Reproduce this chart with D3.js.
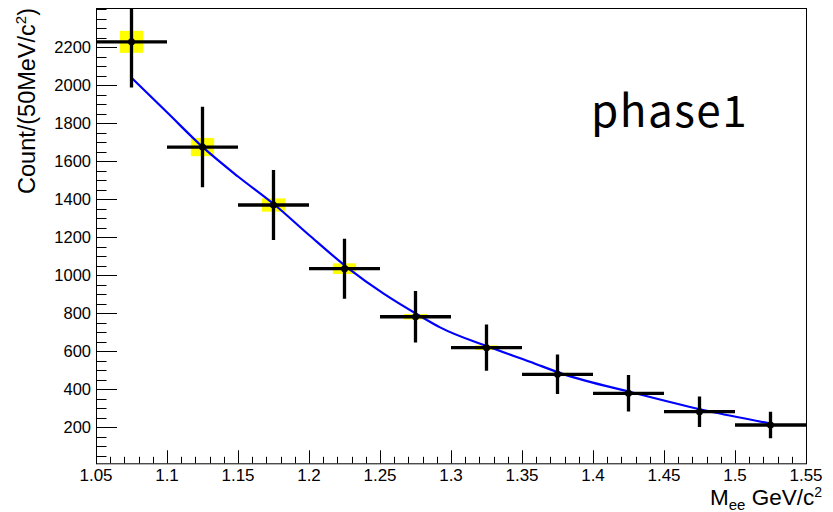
<!DOCTYPE html>
<html>
<head>
<meta charset="utf-8">
<script src="https://cdn.jsdelivr.net/npm/d3@7"></script>
<style>
  html, body { margin: 0; padding: 0; background: #fff; }
  svg { display: block; }
  text { font-family: "Liberation Sans", Arial, sans-serif; fill: #000; }
</style>
</head>
<body>
<svg id="chart" width="833" height="512"></svg>
<script>
// ---- data ----
const binCenters = [1.075, 1.125, 1.175, 1.225, 1.275, 1.325, 1.375, 1.425, 1.475, 1.525];
const counts     = [2229, 1675, 1370, 1035, 782, 619, 479, 379, 282, 212];
const statErr    = [240, 212, 184, 158, 136, 122, 104, 96, 80, 70];
const sysErr     = [58, 48, 35, 28, 14, 12, 8, 5, 4, 3];
const binHalfWidth = 0.025;
const fitX = [1.075, 1.1, 1.1256, 1.15, 1.176, 1.2, 1.2277, 1.2523, 1.2782, 1.2923, 1.3275, 1.3556, 1.3791, 1.4284, 1.4801, 1.525];
const fitY = [2040, 1858, 1672, 1520, 1370, 1212, 1037, 905, 786, 726, 621, 545, 480, 382, 287, 220];
const xTicks = [1.05, 1.1, 1.15, 1.2, 1.25, 1.3, 1.35, 1.4, 1.45, 1.5, 1.55];
const yTicks = [200, 400, 600, 800, 1000, 1200, 1400, 1600, 1800, 2000, 2200];
const label = "phase1";

// ---- layout ----
const svg = d3.select("#chart");
const pL = 96, pR = 806, pT = 8, pB = 463.3;
const x = d3.scaleLinear().domain([1.05, 1.55]).range([pL, pR]);
const y = d3.scaleLinear().domain([10.5, 2407]).range([pB, pT]);

const defs = svg.append("defs");
defs.append("clipPath").attr("id", "clip")
  .append("rect").attr("x", pL).attr("y", pT).attr("width", pR - pL).attr("height", pB - pT);

// frame
svg.append("rect").attr("x", pL + 0.5).attr("y", pT + 0.5).attr("width", pR - pL).attr("height", pB - pT)
  .attr("fill", "none").attr("stroke", "#000").attr("stroke-width", 1);

// y axis ticks
const yMinor = d3.range(50, 2401, 50);
const yAx = svg.append("g").attr("stroke", "#000").attr("stroke-width", 1);
yMinor.forEach(v => {
  const major = v % 200 === 0 && v <= 2200;
  yAx.append("line").attr("x1", pL).attr("x2", pL + (major ? 21 : 10.5))
    .attr("y1", Math.round(y(v)) + 0.5).attr("y2", Math.round(y(v)) + 0.5);
});
svg.append("g").selectAll("text").data(yTicks).join("text")
  .attr("x", 91).attr("y", d => y(d)).attr("dy", "0.36em")
  .attr("text-anchor", "end").attr("font-size", 16.5).text(d => d);

// x axis ticks
const xMinor = d3.range(0, 51).map(i => 1.05 + i * 0.01);
const xAx = svg.append("g").attr("stroke", "#000").attr("stroke-width", 1);
xMinor.forEach((v, i) => {
  const major = i % 5 === 0;
  xAx.append("line").attr("x1", Math.round(x(v)) + 0.5).attr("x2", Math.round(x(v)) + 0.5)
    .attr("y1", pB).attr("y2", pB - (major ? 13 : 6.5));
});
svg.append("g").selectAll("text").data(xTicks).join("text")
  .attr("x", d => x(d)).attr("y", 481)
  .attr("text-anchor", "middle").attr("font-size", 17).text(d => d3.format("")(d));

// axis titles
const xt = svg.append("text").attr("x", 822).attr("y", 505).attr("text-anchor", "end").attr("font-size", 22.5);
xt.append("tspan").text("M");
xt.append("tspan").attr("font-size", 15).attr("dy", 5).text("ee");
xt.append("tspan").attr("dy", -5).text(" GeV/c");
xt.append("tspan").attr("font-size", 14).attr("dy", -8).text("2");

const yt = svg.append("text").attr("transform", "translate(35,8) rotate(-90)")
  .attr("text-anchor", "end").attr("font-size", 23.5);
yt.append("tspan").text("Count/(50MeV/c");
yt.append("tspan").attr("font-size", 15).attr("dy", -9).text("2");
yt.append("tspan").attr("dy", 9).text(")");

// plot contents
const plot = svg.append("g").attr("clip-path", "url(#clip)");
const data = binCenters.map((c, i) => ({ c, v: counts[i], e: statErr[i], s: sysErr[i] }));

// systematic boxes
plot.selectAll("rect.sys").data(data).join("rect").attr("class", "sys")
  .attr("x", d => x(d.c - 0.0082)).attr("width", d => x(d.c + 0.0082) - x(d.c - 0.0082))
  .attr("y", d => y(d.v + d.s)).attr("height", d => y(d.v - d.s) - y(d.v + d.s))
  .attr("fill", "#ffff00");

// fit curve
const fit = fitX.map((v, i) => [v, fitY[i]]);
plot.append("path").datum(fit)
  .attr("d", d3.line().x(d => x(d[0])).y(d => y(d[1])).curve(d3.curveMonotoneX))
  .attr("fill", "none").attr("stroke", "#0000ff").attr("stroke-width", 2.2);

// error bars
plot.selectAll("line.ex").data(data).join("line").attr("class", "ex")
  .attr("x1", d => x(d.c - binHalfWidth)).attr("x2", d => x(d.c + binHalfWidth))
  .attr("y1", d => y(d.v)).attr("y2", d => y(d.v))
  .attr("stroke", "#000").attr("stroke-width", 3.3);
plot.selectAll("line.ey").data(data).join("line").attr("class", "ey")
  .attr("x1", d => x(d.c)).attr("x2", d => x(d.c))
  .attr("y1", d => y(d.v + d.e)).attr("y2", d => y(d.v - d.e))
  .attr("stroke", "#000").attr("stroke-width", 3.3);
plot.selectAll("circle.m").data(data).join("circle").attr("class", "m")
  .attr("cx", d => x(d.c)).attr("cy", d => y(d.v)).attr("r", 3.5).attr("fill", "#000");

// label
svg.append("text").attr("x", 591).attr("y", 127)
  .style("font-family", "'Noto Sans CJK JP', 'Noto Sans', sans-serif")
  .attr("font-size", 44).attr("letter-spacing", 1.5).text(label);
</script>
</body>
</html>
